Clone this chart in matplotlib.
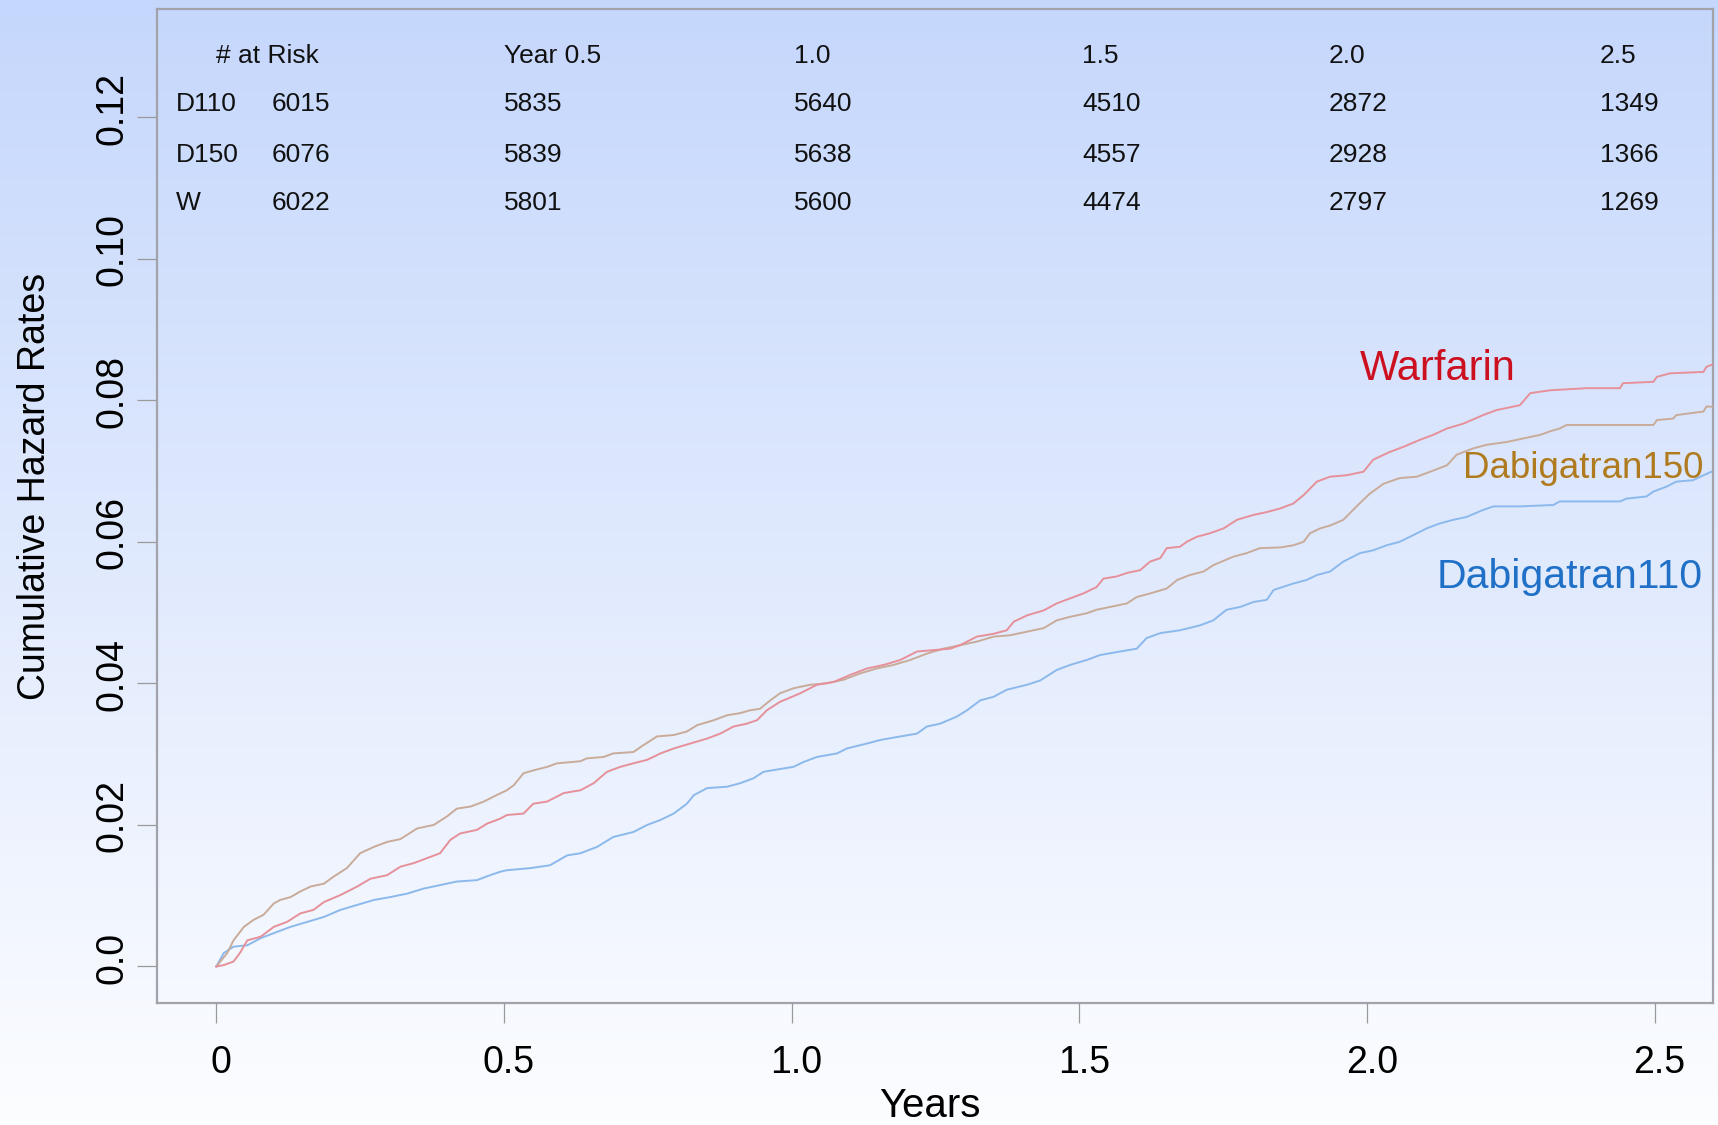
import numpy as np
import matplotlib
matplotlib.use("Agg")
import matplotlib.pyplot as plt
from matplotlib.transforms import ScaledTranslation

plt.rcParams['font.family'] = ['Liberation Sans', 'DejaVu Sans']

# ---- cumulative hazard curves (years, cumulative hazard) ----
d150_t = [0, 0.019, 0.030, 0.048, 0.065, 0.082, 0.100, 0.111, 0.129, 0.146, 0.164, 0.187,
          0.204, 0.227, 0.250, 0.274, 0.297, 0.320, 0.349, 0.378, 0.401, 0.418, 0.442, 0.465,
          0.482, 0.505, 0.517, 0.534, 0.551, 0.575, 0.592, 0.633, 0.644, 0.673, 0.690, 0.725,
          0.743, 0.766, 0.795, 0.818, 0.836, 0.865, 0.888, 0.911, 0.928, 0.945, 0.963, 0.980,
          1.003, 1.032, 1.061, 1.090, 1.119, 1.148, 1.177, 1.206, 1.235, 1.264, 1.293, 1.322,
          1.351, 1.380, 1.409, 1.438, 1.461, 1.484, 1.513, 1.530, 1.554, 1.583, 1.600, 1.623,
          1.652, 1.670, 1.692, 1.716, 1.733, 1.768, 1.791, 1.814, 1.849, 1.872, 1.890, 1.901,
          1.919, 1.936, 1.959, 1.982, 2.005, 2.029, 2.057, 2.087, 2.110, 2.139, 2.156, 2.185,
          2.208, 2.243, 2.301, 2.318, 2.335, 2.347, 2.498, 2.504, 2.532, 2.538, 2.585, 2.590, 2.620]
d150_v = [0, 0.0019, 0.0037, 0.0056, 0.0066, 0.0073, 0.0089, 0.0094, 0.0098, 0.0106, 0.0113, 0.0117,
          0.0127, 0.0139, 0.0160, 0.0169, 0.0176, 0.0180, 0.0195, 0.0200, 0.0212, 0.0223, 0.0226, 0.0233,
          0.0240, 0.0249, 0.0256, 0.0273, 0.0277, 0.0282, 0.0287, 0.0290, 0.0294, 0.0296, 0.0301, 0.0303,
          0.0313, 0.0325, 0.0327, 0.0332, 0.0341, 0.0348, 0.0355, 0.0358, 0.0362, 0.0364, 0.0376, 0.0386,
          0.0393, 0.0398, 0.0400, 0.0405, 0.0414, 0.0421, 0.0426, 0.0433, 0.0442, 0.0449, 0.0454, 0.0459,
          0.0466, 0.0468, 0.0473, 0.0478, 0.0489, 0.0494, 0.0499, 0.0504, 0.0508, 0.0513, 0.0522, 0.0527,
          0.0534, 0.0546, 0.0553, 0.0558, 0.0567, 0.0579, 0.0584, 0.0591, 0.0592, 0.0595, 0.0600, 0.0612,
          0.0619, 0.0623, 0.0631, 0.0650, 0.0668, 0.0682, 0.0690, 0.0692, 0.0699, 0.0708, 0.0723, 0.0732,
          0.0737, 0.0741, 0.0751, 0.0756, 0.0760, 0.0765, 0.0765, 0.0772, 0.0774, 0.0779, 0.0784, 0.0791, 0.0791]

warf_t = [0, 0.013, 0.030, 0.041, 0.054, 0.077, 0.100, 0.123, 0.146, 0.169, 0.187, 0.216,
          0.245, 0.268, 0.297, 0.320, 0.343, 0.366, 0.389, 0.407, 0.424, 0.453, 0.471, 0.494,
          0.505, 0.534, 0.551, 0.575, 0.604, 0.633, 0.656, 0.679, 0.702, 0.725, 0.749, 0.772,
          0.795, 0.824, 0.853, 0.876, 0.899, 0.922, 0.940, 0.957, 0.980, 0.992, 1.015, 1.044,
          1.073, 1.102, 1.131, 1.160, 1.189, 1.218, 1.247, 1.276, 1.293, 1.322, 1.351, 1.374,
          1.386, 1.409, 1.438, 1.461, 1.484, 1.507, 1.530, 1.542, 1.565, 1.583, 1.606, 1.623,
          1.641, 1.652, 1.675, 1.687, 1.704, 1.727, 1.751, 1.774, 1.803, 1.826, 1.849, 1.872,
          1.890, 1.913, 1.936, 1.965, 1.994, 2.011, 2.040, 2.063, 2.092, 2.115, 2.139, 2.168,
          2.202, 2.225, 2.266, 2.284, 2.318, 2.382, 2.440, 2.445, 2.498, 2.504, 2.527, 2.585, 2.590,
          2.599, 2.620]
warf_v = [0, 0.0002, 0.0007, 0.0019, 0.0037, 0.0042, 0.0056, 0.0063, 0.0075, 0.0080, 0.0091, 0.0101,
          0.0113, 0.0124, 0.0129, 0.0141, 0.0146, 0.0153, 0.0160, 0.0179, 0.0188, 0.0193, 0.0202, 0.0209,
          0.0214, 0.0216, 0.0230, 0.0233, 0.0245, 0.0249, 0.0259, 0.0275, 0.0282, 0.0287, 0.0292, 0.0301,
          0.0308, 0.0315, 0.0322, 0.0329, 0.0339, 0.0343, 0.0348, 0.0362, 0.0374, 0.0378, 0.0386, 0.0398,
          0.0402, 0.0412, 0.0421, 0.0426, 0.0433, 0.0445, 0.0447, 0.0449, 0.0454, 0.0466, 0.0470, 0.0475,
          0.0487, 0.0496, 0.0503, 0.0513, 0.0520, 0.0527, 0.0536, 0.0548, 0.0551, 0.0556, 0.0560, 0.0572,
          0.0577, 0.0591, 0.0593, 0.0600, 0.0607, 0.0612, 0.0619, 0.0631, 0.0638, 0.0642, 0.0647, 0.0654,
          0.0666, 0.0685, 0.0692, 0.0694, 0.0699, 0.0716, 0.0727, 0.0734, 0.0744, 0.0751, 0.0760, 0.0767,
          0.0779, 0.0786, 0.0793, 0.0810, 0.0814, 0.0817, 0.0817, 0.0824, 0.0826, 0.0833, 0.0838, 0.0840, 0.0847,
          0.0850, 0.0850]

d110_t = [0, 0.013, 0.030, 0.054, 0.077, 0.106, 0.129, 0.158, 0.187, 0.216, 0.245, 0.274,
          0.302, 0.332, 0.360, 0.389, 0.418, 0.453, 0.476, 0.494, 0.505, 0.546, 0.580, 0.610,
          0.633, 0.662, 0.690, 0.725, 0.749, 0.772, 0.795, 0.818, 0.830, 0.853, 0.888, 0.911,
          0.934, 0.951, 0.980, 1.003, 1.021, 1.044, 1.079, 1.096, 1.131, 1.154, 1.189, 1.218,
          1.235, 1.258, 1.287, 1.305, 1.328, 1.351, 1.374, 1.409, 1.432, 1.461, 1.484, 1.513,
          1.536, 1.571, 1.600, 1.617, 1.641, 1.675, 1.710, 1.733, 1.756, 1.780, 1.803, 1.826,
          1.838, 1.872, 1.895, 1.913, 1.936, 1.959, 1.988, 2.011, 2.034, 2.057, 2.087, 2.104,
          2.127, 2.150, 2.173, 2.202, 2.220, 2.266, 2.324, 2.335, 2.440, 2.451, 2.486, 2.498, 2.521, 2.538,
          2.567, 2.585, 2.599, 2.620]
d110_v = [0, 0.0019, 0.0028, 0.0030, 0.0040, 0.0049, 0.0056, 0.0063, 0.0070, 0.0080, 0.0087, 0.0094,
          0.0098, 0.0103, 0.0110, 0.0115, 0.0120, 0.0122, 0.0129, 0.0134, 0.0136, 0.0139, 0.0143, 0.0157,
          0.0160, 0.0169, 0.0183, 0.0190, 0.0200, 0.0207, 0.0216, 0.0230, 0.0242, 0.0252, 0.0254, 0.0259,
          0.0266, 0.0275, 0.0279, 0.0282, 0.0289, 0.0296, 0.0301, 0.0308, 0.0315, 0.0320, 0.0325, 0.0329,
          0.0339, 0.0343, 0.0353, 0.0362, 0.0376, 0.0381, 0.0391, 0.0398, 0.0404, 0.0419, 0.0426, 0.0433,
          0.0440, 0.0445, 0.0449, 0.0464, 0.0471, 0.0475, 0.0482, 0.0489, 0.0504, 0.0508, 0.0515, 0.0518,
          0.0532, 0.0541, 0.0546, 0.0553, 0.0558, 0.0572, 0.0584, 0.0588, 0.0595, 0.0600, 0.0612, 0.0619,
          0.0626, 0.0631, 0.0635, 0.0645, 0.0650, 0.0650, 0.0652, 0.0657, 0.0657, 0.0661, 0.0664, 0.0671, 0.0678, 0.0685,
          0.0687, 0.0694, 0.0699, 0.0699]

# ---- numbers at risk table ----
risk_header = ["Year 0.5", "1.0", "1.5", "2.0", "2.5"]
risk_groups = ["D110", "D150", "W"]
risk_baseline = [6015, 6076, 6022]
risk_counts = [[5835, 5640, 4510, 2872, 1349],
               [5839, 5638, 4557, 2928, 1366],
               [5801, 5600, 4474, 2797, 1269]]

x_ticks = [0, 0.5, 1.0, 1.5, 2.0, 2.5]
x_tick_labels = ["0", "0.5", "1.0", "1.5", "2.0", "2.5"]
y_ticks = [0.0, 0.02, 0.04, 0.06, 0.08, 0.10, 0.12]
y_tick_labels = ["0.0", "0.02", "0.04", "0.06", "0.08", "0.10", "0.12"]

fig = plt.figure(figsize=(17.18, 11.25), dpi=100, facecolor="white")

# vertical background gradient across the whole figure
bg = fig.add_axes([0, 0, 1, 1], zorder=-10)
top = np.array([197, 215, 252]) / 255.0
bot = np.array([252, 253, 255]) / 255.0
f = np.linspace(0, 1, 256)[:, None]
grad = top[None, :] * (1 - f) + bot[None, :] * f
bg.imshow(grad[:, None, :], aspect="auto", extent=[0, 1, 0, 1], origin="upper")
bg.set_axis_off()

ax = fig.add_axes([0.0914, 0.1088, 0.9055, 0.8834])
ax.set_facecolor("none")
ax.set_xlim(-0.103, 2.601)
ax.set_ylim(-0.0051, 0.1353)

ax.plot(d150_t, d150_v, color="#c9ab9a", lw=1.4, zorder=3)
ax.plot(warf_t, warf_v, color="#e6909a", lw=1.4, zorder=4)
ax.plot(d110_t, d110_v, color="#8cb9ec", lw=1.4, zorder=2)

# curve labels
ax.text(1.988, 0.0828, "Warfarin", color="#cc1020", fontsize=30, ha="left", va="baseline")
ax.text(2.167, 0.0690, "Dabigatran150", color="#b07a1e", fontsize=26.5, ha="left", va="baseline")
ax.text(2.122, 0.0535, "Dabigatran110", color="#1f70c6", fontsize=29.5, ha="left", va="baseline")

# numbers-at-risk table
col_x = [0.500, 1.004, 1.505, 1.933, 2.405]
row_y = [0.1208, 0.1137, 0.1069]
head_y = 0.1276
tfs = 19
ax.text(0.0, head_y, "# at Risk", fontsize=tfs, ha="left", va="baseline", color="#111111")
for cx, h in zip(col_x, risk_header):
    ax.text(cx, head_y, h, fontsize=tfs, ha="left", va="baseline", color="#111111")
for ry, g, b, counts in zip(row_y, risk_groups, risk_baseline, risk_counts):
    ax.text(-0.071, ry, g, fontsize=tfs, ha="left", va="baseline", color="#111111")
    ax.text(0.096, ry, str(b), fontsize=tfs, ha="left", va="baseline", color="#111111")
    for cx, c in zip(col_x, counts):
        ax.text(cx, ry, str(c), fontsize=tfs, ha="left", va="baseline", color="#111111")

# frame and ticks
for s in ax.spines.values():
    s.set_color("#a2a2aa")
    s.set_linewidth(1.6)

ax.set_xticks(x_ticks)
ax.set_xticklabels(x_tick_labels)
ax.set_yticks(y_ticks)
ax.set_yticklabels(y_tick_labels, rotation=90, va="center")
ax.tick_params(axis="both", direction="out", length=14.4, width=0.9, color="#9a9a9a",
               labelsize=27, labelcolor="black")
ax.tick_params(axis="x", pad=16)
ax.tick_params(axis="y", pad=5)

dx = ScaledTranslation(0.05, 0, fig.dpi_scale_trans)
for lab in ax.get_xticklabels():
    lab.set_transform(lab.get_transform() + dx)
dy = ScaledTranslation(0, 0.09, fig.dpi_scale_trans)
for lab in ax.get_yticklabels():
    lab.set_transform(lab.get_transform() + dy)

fig.text(0.541, 1 - 1117 / 1125, "Years", fontsize=29, ha="center", va="baseline")
fig.text(35 / 1718, 1 - 486 / 1125, "Cumulative Hazard Rates", fontsize=27,
         rotation=90, ha="center", va="center")

fig.savefig("out.png", dpi=100, facecolor=fig.get_facecolor())
